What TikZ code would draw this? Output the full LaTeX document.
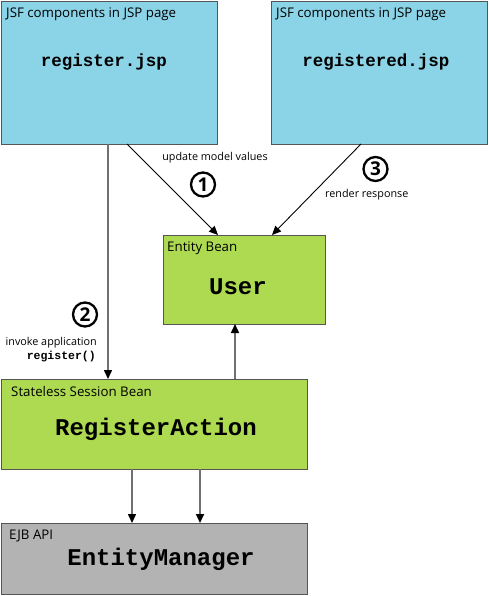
\documentclass[tikz,border=0pt]{standalone}
\usepackage{fontspec}
\setmainfont{Open Sans}
\newfontfamily\codefont{Liberation Mono}
\usetikzlibrary{arrows.meta}
\definecolor{jspblue}{RGB}{139,211,230}
\definecolor{beangreen}{RGB}{173,218,80}
\definecolor{apigray}{RGB}{179,179,179}
\definecolor{edgegray}{RGB}{85,85,85}
\definecolor{linegray}{RGB}{112,112,112}
\begin{document}
\begin{tikzpicture}[x=1pt,y=-1pt,
  boxst/.style={draw=edgegray,line width=1.2pt},
  titlest/.style={anchor=west,inner sep=0pt,font=\fontsize{13.3}{15}\selectfont},
  bigcode/.style={inner sep=0pt,font=\codefont\bfseries\fontsize{24}{28}\selectfont},
  midcode/.style={inner sep=0pt,font=\codefont\bfseries\fontsize{17.5}{20}\selectfont},
  lbl/.style={inner sep=0pt,font=\fontsize{10.8}{12}\selectfont},
  numst/.style={circle,draw=black,line width=2.3pt,minimum size=24pt,inner sep=0pt,font=\bfseries\fontsize{19}{19}\selectfont},
  grayarrow/.style={draw=linegray,line width=1.5pt,-{Triangle[width=8pt,length=9pt,fill=black,color=black]}},
  blackarrow/.style={draw=black,line width=0.9pt,-{Triangle[width=8pt,length=9pt]}}
]
\useasboundingbox (0,0) rectangle (488,596);
% boxes
\node[boxst,fill=jspblue,minimum width=216pt,minimum height=143pt,anchor=north west] (regjsp) at (1,1) {};
\node[boxst,fill=jspblue,minimum width=216pt,minimum height=143pt,anchor=north west] (regdjsp) at (271,1) {};
\node[boxst,fill=beangreen,minimum width=162pt,minimum height=89pt,anchor=north west] (user) at (163,235) {};
\node[boxst,fill=beangreen,minimum width=306pt,minimum height=90pt,anchor=north west] (action) at (1,379) {};
\node[boxst,fill=apigray,minimum width=306pt,minimum height=71pt,anchor=north west] (em) at (1,523) {};
% titles
\node[titlest] (t1) at (6,14) {JSF components in JSP page};
\node[titlest] (t2) at (276,14) {JSF components in JSP page};
\node[titlest] (t3) at (167,248) {Entity Bean};
\node[titlest] (t4) at (11,392) {Stateless Session Bean};
\node[titlest] (t5) at (9,536) {EJB API};
% main names
\node[midcode] (n1) at (104,62) {register.jsp};
\node[midcode] (n2) at (376,62) {registered.jsp};
\node[bigcode] (n3) at (238,287) {User};
\node[bigcode] (n4) at (156,429) {RegisterAction};
\node[bigcode] (n5) at (161,559) {EntityManager};
% connector coordinates
\coordinate (a1s) at (108,144);
\coordinate (a1e) at (108,379);
\coordinate (b1s) at (127,144);
\coordinate (b1e) at (218,235);
\coordinate (c1s) at (361,144);
\coordinate (c1e) at (272,235);
\coordinate (d1s) at (235,379);
\coordinate (d1e) at (235,324);
\coordinate (e1s) at (132,469);
\coordinate (e1e) at (132,523);
\coordinate (f1s) at (200,469);
\coordinate (f1e) at (200,523);
\draw[grayarrow] (a1s) -- (a1e);
\draw[blackarrow] (b1s) -- (b1e);
\draw[blackarrow] (c1s) -- (c1e);
\draw[grayarrow] (d1s) -- (d1e);
\draw[grayarrow] (e1s) -- (e1e);
\draw[grayarrow] (f1s) -- (f1e);
% labels
\node[lbl] (l1) at (215,158) {update model values};
\node[lbl,anchor=west] (l3) at (325,195) {render response};
\node[lbl,anchor=east] (l2) at (97,343) {invoke application};
\node[inner sep=0pt,anchor=east,font=\codefont\bfseries\fontsize{11.5}{13}\selectfont] (l2b) at (96,357) {register()};
\node[numst] (c1) at (203,184.5) {1};
\node[numst] (c3) at (375.5,169) {3};
\node[numst] (c2) at (85,314.5) {2};
\end{tikzpicture}
\end{document}
